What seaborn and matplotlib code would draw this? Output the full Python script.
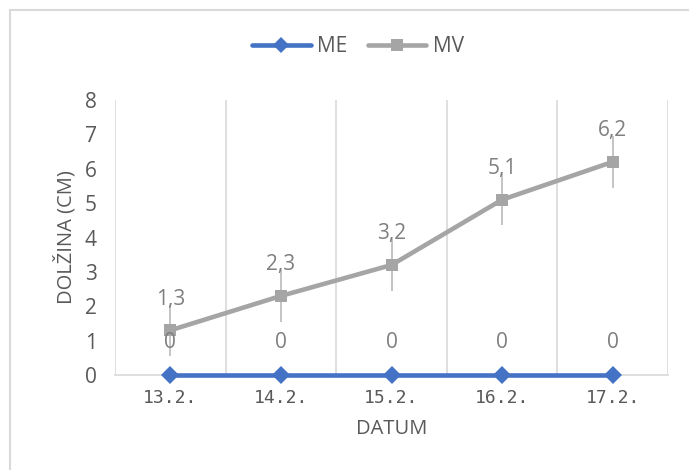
import matplotlib
matplotlib.use("Agg")
import matplotlib.pyplot as plt
from matplotlib.lines import Line2D
import seaborn as sns
import pandas as pd
import numpy as np

categories = ["13.2.", "14.2.", "15.2.", "16.2.", "17.2."]
me_values = [0, 0, 0, 0, 0]
mv_values = [1.3, 2.3, 3.2, 5.1, 6.2]
mv_errors = [0.75, 0.75, 0.75, 0.75, 0.75]
me_labels = ["0", "0", "0", "0", "0"]
mv_labels = ["1,3", "2,3", "3,2", "5,1", "6,2"]
y_ticks = [0, 1, 2, 3, 4, 5, 6, 7, 8]

sns.set_theme(style="white")
plt.rcParams['font.family'] = ['Open Sans', 'DejaVu Sans']

BLUE = "#4472C4"
GRAY = "#A5A5A5"
TXT = "#595959"
GRID = "#D9D9D9"
FS = 15

fig = plt.figure(figsize=(6.89, 4.70), dpi=100)
ax = fig.add_axes([115/689, 1-375/470, (668-115)/689, (375-100)/470])

x = np.arange(len(categories))
df = pd.DataFrame({
    "x": np.concatenate([x, x]),
    "y": me_values + mv_values,
    "series": ["ME"] * len(x) + ["MV"] * len(x),
})

ax.errorbar(x, mv_values, yerr=mv_errors, fmt="none", ecolor="#BFBFBF",
            elinewidth=1.3, capsize=0, zorder=2)

sns.lineplot(data=df, x="x", y="y", hue="series", style="series",
             palette={"ME": BLUE, "MV": GRAY},
             markers={"ME": "D", "MV": "s"}, dashes=False,
             markersize=9, markeredgewidth=0, linewidth=3.3,
             legend=False, ax=ax, zorder=3)

for line in ax.get_lines():
    line.set_clip_on(False)

for xi, v, lab in zip(x, mv_values, mv_labels):
    ax.annotate(lab, (xi, v), xytext=(0, 22.5), textcoords="offset points",
                ha="center", va="center", fontsize=FS, color="#7F7F7F")
for xi, v, lab in zip(x, me_values, me_labels):
    ax.annotate(lab, (xi, v), xytext=(0, 23.5), textcoords="offset points",
                ha="center", va="center", fontsize=FS, color="#7F7F7F")

ax.set_xlim(-0.5, len(categories) - 0.5)
ax.set_ylim(0, 8)
ax.set_yticks(y_ticks)
ax.set_yticklabels([str(t) for t in y_ticks], fontsize=FS, color=TXT)
ax.set_xticks(x)
ax.set_xticklabels(categories, fontsize=13, color=TXT,
                   family="DejaVu Sans Mono")
ax.set_xticks(np.arange(-0.5, len(categories)), minor=True)
ax.tick_params(axis="both", which="both", length=0)
ax.tick_params(axis="y", pad=13)
ax.tick_params(axis="x", pad=10)
ax.grid(False)
ax.grid(True, which="minor", axis="x", color=GRID, linewidth=1.2)

for s in ["top", "right", "left"]:
    ax.spines[s].set_visible(False)
ax.spines["bottom"].set_color(GRID)
ax.spines["bottom"].set_linewidth(1.2)

ax.set_xlabel("DATUM", fontsize=14.5, color=TXT, labelpad=9)
ax.set_ylabel("DOLŽINA (CM)", fontsize=14.5, color=TXT, labelpad=6)

handles = [
    Line2D([], [], color=BLUE, marker="D", markersize=8, linewidth=3.3, markeredgewidth=0),
    Line2D([], [], color=GRAY, marker="s", markersize=8, linewidth=3.3, markeredgewidth=0),
]
leg = fig.legend(handles, ["ME", "MV"], loc="center", bbox_to_anchor=(358/689, 1-47/470),
                 ncol=2, frameon=False, fontsize=FS, handlelength=2.8,
                 columnspacing=1.0, handletextpad=0.3)
for t in leg.get_texts():
    t.set_color(TXT)

fig.add_artist(Line2D([10/689, 10/689], [0, 1-10/470], transform=fig.transFigure,
                      color=GRID, linewidth=1.5))
fig.add_artist(Line2D([10/689, 1], [1-10/470, 1-10/470], transform=fig.transFigure,
                      color=GRID, linewidth=1.5))

fig.savefig("out.png", dpi=100)
